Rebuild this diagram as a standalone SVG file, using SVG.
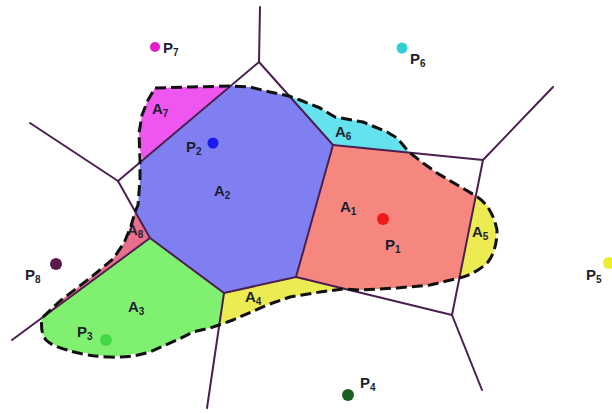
<svg xmlns="http://www.w3.org/2000/svg" width="612" height="414" viewBox="0 0 612 414">
<style>
.edge{stroke:#4b1f4f;stroke-width:2;fill:none;stroke-linecap:round}
.blob{fill:none;stroke:#111;stroke-width:3;stroke-dasharray:11 5;stroke-linejoin:round}
.lbl{font-family:"Liberation Sans",Arial,sans-serif;font-weight:bold;font-size:15px;fill:#1e1e30}
.sub{font-size:10px}
.site{stroke:none}
</style>
<rect width="612" height="414" fill="#ffffff"/>
<g id="regions">
<g id="A7"><polygon points="143,160 230,86 190,87 155,88 148,100 142,115 139,133 140,150" fill="#ef55ef"/><text class="lbl" x="152" y="114">A<tspan class="sub" dy="3">7</tspan></text></g>
<g id="A2"><polygon points="230,86 250,87 270,92 289,96 333,145 296,277 224,293 150,238 135,212 138,205 140,180 140,160 143,160" fill="#7f7ff2"/><text class="lbl" x="214" y="196">A<tspan class="sub" dy="3">2</tspan></text></g>
<g id="A6"><polygon points="289,96 300,100 320,108 335,117 363,122 387,132 397,138 409,152 333,145" fill="#66e2ee"/><text class="lbl" x="335" y="137">A<tspan class="sub" dy="3">6</tspan></text></g>
<g id="A1"><polygon points="333,145 409,152 423,163 437,173 476,196 459,278 430,285 397,288 360,290 343,289 296,277" fill="#f5877f"/><text class="lbl" x="340" y="212">A<tspan class="sub" dy="3">1</tspan></text></g>
<g id="A5"><polygon points="476,196 490,208 497,230 493,257 480,270 459,278" fill="#ecec52"/><text class="lbl" x="472" y="237">A<tspan class="sub" dy="3">5</tspan></text></g>
<g id="A4"><polygon points="224,293 296,277 343,289 320,292 290,297 267,305 233,320 219,325" fill="#ecec52"/><text class="lbl" x="245" y="302">A<tspan class="sub" dy="3">4</tspan></text></g>
<g id="A3"><polygon points="150,238 224,293 219,325 210,328 193,332 177,340 150,352 110,357 67,350 48,342 40,330 42,318" fill="#80f070"/><text class="lbl" x="128" y="312">A<tspan class="sub" dy="3">3</tspan></text></g>
<g id="A8"><polygon points="135,212 150,238 42,318 60,301 90,278 113,259 124,243 131,226" fill="#e8708c"/><text class="lbl" x="127" y="235">A<tspan class="sub" dy="3">8</tspan></text></g>
</g>
<g id="connectors">
<line class="edge" x1="260" y1="7" x2="259" y2="62"/>
<line class="edge" x1="259" y1="62" x2="118" y2="181"/>
<line class="edge" x1="259" y1="62" x2="333" y2="145"/>
<line class="edge" x1="118" y1="181" x2="30" y2="123"/>
<line class="edge" x1="118" y1="181" x2="150" y2="238"/>
<line class="edge" x1="150" y1="238" x2="12" y2="340"/>
<line class="edge" x1="150" y1="238" x2="224" y2="293"/>
<line class="edge" x1="224" y1="293" x2="296" y2="277"/>
<line class="edge" x1="224" y1="293" x2="207" y2="408"/>
<line class="edge" x1="296" y1="277" x2="333" y2="145"/>
<line class="edge" x1="333" y1="145" x2="483" y2="160"/>
<line class="edge" x1="483" y1="160" x2="553" y2="87"/>
<line class="edge" x1="483" y1="160" x2="452" y2="315"/>
<line class="edge" x1="296" y1="277" x2="452" y2="315"/>
<line class="edge" x1="452" y1="315" x2="482" y2="390"/>
</g>
<g id="boundary">
<path class="blob" d="M155,88 L190,87 L230,86 L250,87 L270,92 L289,96 L300,100 L320,108 L335,117 L363,122 L387,132 L397,138 L409,152 L423,163 L437,173 L476,196 Q492,206 497,230 Q497,250 488,262 Q476,274 459,278 L430,285 L397,288 L360,290 L343,289 L320,292 L290,297 L267,305 L233,320 L219,325 L210,328 L193,332 L177,340 L150,352 Q130,358 110,357 Q85,356 67,350 Q52,346 46,340 Q40,332 42,318 L60,301 L90,278 L113,259 L124,243 L131,226 L135,212 L138,205 L140,180 L140,160 L139,133 L142,115 L148,100 Z"/>
</g>
<g id="sites">
<g id="P7"><circle class="site" cx="155" cy="47" r="5" fill="#e020c8"/><text class="lbl" x="163" y="53">P<tspan class="sub" dy="3">7</tspan></text></g>
<g id="P6"><circle class="site" cx="402" cy="48" r="5.5" fill="#30d0d0"/><text class="lbl" x="410" y="64">P<tspan class="sub" dy="3">6</tspan></text></g>
<g id="P2"><circle class="site" cx="213" cy="143" r="5.5" fill="#1a1aee"/><text class="lbl" x="186" y="152">P<tspan class="sub" dy="3">2</tspan></text></g>
<g id="P1"><circle class="site" cx="383" cy="219" r="6" fill="#ee1a1a"/><text class="lbl" x="385" y="250">P<tspan class="sub" dy="3">1</tspan></text></g>
<g id="P8"><circle class="site" cx="56" cy="264" r="6" fill="#5a1a4a"/><text class="lbl" x="25" y="280">P<tspan class="sub" dy="3">8</tspan></text></g>
<g id="P3"><circle class="site" cx="106" cy="340" r="6" fill="#44d844"/><text class="lbl" x="77" y="337">P<tspan class="sub" dy="3">3</tspan></text></g>
<g id="P4"><circle class="site" cx="348" cy="395" r="6" fill="#1a6020"/><text class="lbl" x="360" y="388">P<tspan class="sub" dy="3">4</tspan></text></g>
<g id="P5"><circle class="site" cx="609" cy="263" r="6" fill="#eeee30" stroke="#555" stroke-width="1"/><text class="lbl" x="586" y="280">P<tspan class="sub" dy="3">5</tspan></text></g>
</g>
</svg>
